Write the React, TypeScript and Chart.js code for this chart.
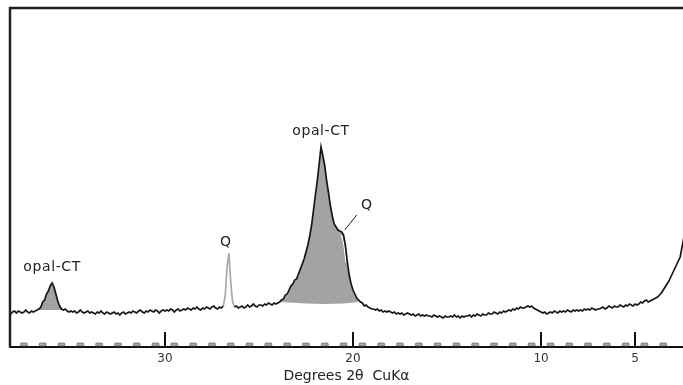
import { useEffect, useRef } from 'react';
import { Chart, registerables } from 'chart.js';

Chart.register(...registerables);

// X-ray diffraction trace, sampled every 0.1° 2θ from 38.9° down to 2.0°.
// Each row holds one degree: x.9, x.8, ... x.0
const ANGLE_START = 38.9;
const ANGLE_STEP = 0.1;
const counts: number[] = [
  35, 34, 36, 35, 34, 36, 35, 33, 35, 36, // 38
  34, 36, 35, 34, 35, 37, 35, 34, 36, 35, // 37
  36, 37, 38, 40, 45, 47, 53, 56, 61, 64, // 36
  60, 53, 46, 41, 38, 37, 38, 36, 35, 36, // 35
  35, 36, 34, 35, 37, 35, 34, 35, 36, 34, // 34
  35, 34, 33, 35, 34, 36, 34, 33, 35, 34, // 33
  33, 34, 35, 33, 34, 32, 34, 35, 33, 34, // 32
  35, 34, 36, 35, 34, 36, 37, 35, 34, 36, // 31
  35, 37, 36, 35, 37, 36, 34, 36, 37, 36, // 30
  37, 36, 38, 37, 35, 37, 38, 36, 37, 38, // 29
  37, 39, 38, 37, 39, 38, 40, 38, 37, 39, // 28
  38, 40, 39, 38, 40, 41, 39, 38, 40, 39, // 27
  41, 50, 79, 94, 64, 45, 40, 41, 39, 40, // 26
  41, 39, 40, 42, 40, 41, 43, 41, 40, 42, // 25
  42, 41, 43, 42, 44, 43, 42, 44, 43, 44, // 24
  45, 47, 48, 52, 53, 57, 61, 63, 67, 68, // 23
  73, 78, 83, 88, 95, 102, 111, 122, 137, 152, // 22
  166, 183, 200, 191, 181, 166, 154, 141, 131, 123, // 21
  120, 117, 116, 115, 112, 101, 85, 72, 63, 57, // 20
  53, 49, 47, 45, 44, 41, 42, 40, 39, 38, // 19
  38, 37, 38, 36, 37, 35, 36, 35, 36, 35, // 18
  34, 35, 33, 34, 33, 34, 32, 33, 34, 33, // 17
  32, 33, 31, 32, 33, 31, 32, 31, 32, 31, // 16
  31, 30, 32, 31, 30, 31, 30, 29, 31, 30, // 15
  30, 31, 30, 32, 30, 31, 29, 31, 30, 31, // 14
  31, 32, 30, 32, 31, 33, 32, 31, 33, 32, // 13
  32, 34, 33, 33, 35, 34, 33, 35, 34, 36, // 12
  35, 36, 37, 36, 38, 37, 39, 38, 40, 39, // 11
  39, 40, 41, 40, 41, 39, 38, 37, 36, 35, // 10
  34, 35, 33, 34, 35, 34, 36, 35, 34, 36, // 9
  35, 36, 35, 37, 36, 35, 37, 36, 37, 36, // 8
  37, 36, 38, 37, 38, 37, 39, 38, 37, 38, // 7
  38, 39, 40, 38, 39, 41, 40, 39, 41, 40, // 6
  40, 42, 41, 40, 42, 41, 43, 42, 41, 43, // 5
  42, 43, 45, 44, 46, 47, 45, 46, 47, 48, // 4
  49, 50, 52, 54, 57, 60, 63, 66, 70, 74, // 3
  78, 82, 86, 90, 100, 110, 118, 126, 134, 142, // 2
];
const twoTheta = counts.map((_, i) => +(ANGLE_START - i * ANGLE_STEP).toFixed(1));

// Axis
const X_MIN = 2.45;
const X_MAX = 38.24;
const Y_MAX = 339;
const tickAngles = [30, 20, 10, 5];
const minorMarks = [
  37.5, 36.5, 35.5, 34.5, 33.5, 32.5, 31.5, 30.5, 29.5, 28.5, 27.5, 26.5, 25.5, 24.5, 23.5, 22.5, 21.5, 20.5,
  19.5, 18.5, 17.5, 16.5, 15.5, 14.5, 13.5, 12.5, 11.5, 10.5, 9.5, 8.5, 7.5, 6.5, 5.5, 4.5, 3.5, 2.5,
];
const axisTitle = 'Degrees 2θ  CuKα';

// Shaded opal-CT reflections: angular range and the amorphous base beneath each
const smallPeakRange = [35.4, 36.8];
const smallBaseAngles = [36.8, 35.4];
const smallBaseCounts = [37, 37];
const mainPeakRange = [19.7, 23.9];
const mainBaseAngles = [23.9, 22.5, 21.5, 20.5, 19.7];
const mainBaseCounts = [45, 43.5, 43, 43.5, 45];

// Quartz peak drawn in a lighter stroke, and the quartz shoulder on the main peak
const quartzRange = [26.25, 26.95];
const shoulderAngles = [20.62, 20.5, 20.42, 20.36];
const shoulderCounts = [112, 104, 92, 84];

// Peak annotations
const peakNames = ['opal-CT', 'Q', 'opal-CT', 'Q'];
const peakAngles = [36.0, 26.6, 21.7, 20.6];

const FONT = '"DejaVu Sans", "Open Sans", sans-serif';

const trace = twoTheta.map((x, i) => ({ x, y: counts[i] }));
const within = (r: number[]) => trace.filter((p) => p.x >= r[0] - 1e-9 && p.x <= r[1] + 1e-9);
const pairs = (xs: number[], ys: number[]) => xs.map((x, i) => ({ x, y: ys[i] }));
const countAt = (a: number) => trace.find((p) => Math.abs(p.x - a) < 1e-6)?.y ?? 0;

const axisPlugin = {
  id: 'axisDecor',
  afterDraw(chart: any) {
    const { ctx, chartArea: a, scales } = chart;
    const x = scales.x;
    ctx.save();
    // small grey graduation marks resting on the axis
    ctx.fillStyle = '#a8a8a8';
    ctx.strokeStyle = '#5f5f5f';
    ctx.lineWidth = 0.7;
    for (const v of minorMarks) {
      const px = x.getPixelForValue(v);
      if (px < a.left + 5 || px > a.right - 3) continue;
      ctx.beginPath();
      ctx.roundRect(px - 3.5, a.bottom - 4, 7, 3, 1.2);
      ctx.fill();
      ctx.stroke();
    }
    // major ticks pointing into the plot
    ctx.strokeStyle = '#111';
    ctx.lineWidth = 2;
    ctx.beginPath();
    for (const v of tickAngles) {
      const px = Math.round(x.getPixelForValue(v));
      ctx.moveTo(px, a.bottom + 1);
      ctx.lineTo(px, a.bottom - 15);
    }
    ctx.stroke();
    // left and top frame
    ctx.strokeStyle = '#222';
    ctx.lineWidth = 2.5;
    ctx.beginPath();
    ctx.moveTo(a.left, a.bottom);
    ctx.lineTo(a.left, a.top);
    ctx.lineTo(a.right + 2, a.top);
    ctx.stroke();
    ctx.restore();
  },
};

const labelPlugin = {
  id: 'peakLabels',
  afterDatasetsDraw(chart: any) {
    const { ctx, scales } = chart;
    const x = scales.x;
    const y = scales.y;
    ctx.save();
    ctx.fillStyle = '#222';
    ctx.font = `14px ${FONT}`;
    (ctx as any).letterSpacing = '0.6px';
    ctx.textAlign = 'center';
    ctx.textBaseline = 'middle';
    peakNames.forEach((name, i) => {
      const px = x.getPixelForValue(peakAngles[i]);
      const py = y.getPixelForValue(countAt(peakAngles[i]));
      if (i === 3) {
        // shoulder label with a leader line
        ctx.strokeStyle = '#222';
        ctx.lineWidth = 1;
        ctx.beginPath();
        ctx.moveTo(px + 3, py - 2);
        ctx.lineTo(px + 15, py - 17);
        ctx.stroke();
        ctx.fillText(name, px + 25, py - 27);
      } else if (name === 'Q') {
        ctx.fillText(name, px - 3, py - 11);
      } else {
        ctx.fillText(name, px, py - 16);
      }
    });
    ctx.restore();
  },
};

export default function App() {
  const ref = useRef<HTMLCanvasElement | null>(null);

  useEffect(() => {
    if (!ref.current) return;
    const inQuartz = (c: any) =>
      c.p0.parsed.x >= quartzRange[0] && c.p0.parsed.x <= quartzRange[1] &&
      c.p1.parsed.x >= quartzRange[0] && c.p1.parsed.x <= quartzRange[1];

    const chart = new Chart(ref.current, {
      type: 'line',
      data: {
        datasets: [
          {
            label: 'XRD pattern',
            data: trace,
            borderColor: '#161616',
            borderWidth: 1.7,
            pointRadius: 0,
            fill: false,
            order: 0,
            segment: { borderColor: (c: any) => (inQuartz(c) ? '#a9a9a9' : undefined) },
          },
          {
            label: 'quartz shoulder',
            data: pairs(shoulderAngles, shoulderCounts),
            borderColor: '#ffffff',
            borderWidth: 1.1,
            pointRadius: 0,
            fill: false,
            order: 1,
          },
          {
            label: 'opal-CT (2.5 Å)',
            data: within(smallPeakRange),
            borderColor: 'rgba(0,0,0,0)',
            borderWidth: 0,
            pointRadius: 0,
            backgroundColor: '#a3a3a3',
            fill: '+1',
            order: 2,
          },
          {
            label: 'base 1',
            data: pairs(smallBaseAngles, smallBaseCounts),
            borderColor: 'rgba(0,0,0,0)',
            borderWidth: 0,
            pointRadius: 0,
            fill: false,
            order: 3,
          },
          {
            label: 'opal-CT (4.1 Å)',
            data: within(mainPeakRange),
            borderColor: 'rgba(0,0,0,0)',
            borderWidth: 0,
            pointRadius: 0,
            backgroundColor: '#a3a3a3',
            fill: '+1',
            order: 2,
          },
          {
            label: 'base 2',
            data: pairs(mainBaseAngles, mainBaseCounts),
            borderColor: 'rgba(0,0,0,0)',
            borderWidth: 0,
            pointRadius: 0,
            fill: false,
            order: 3,
          },
        ],
      },
      options: {
        animation: false,
        responsive: false,
        events: [],
        layout: { padding: { left: 10, top: 8, right: 0, bottom: 0 } },
        plugins: { legend: { display: false }, tooltip: { enabled: false } },
        scales: {
          x: {
            type: 'linear',
            reverse: true,
            min: X_MIN,
            max: X_MAX,
            afterBuildTicks: (s: any) => {
              s.ticks = tickAngles.map((value) => ({ value }));
            },
            afterFit: (s: any) => {
              s.height = 38;
            },
            grid: { display: true, drawOnChartArea: false, drawTicks: false },
            border: { display: true, color: '#111', width: 2 },
            ticks: {
              padding: 5,
              color: '#333',
              autoSkip: false,
              maxRotation: 0,
              font: { family: FONT, size: 12 },
              callback: (v: any) => String(v),
            },
            title: {
              display: true,
              text: axisTitle,
              color: '#222',
              font: { family: FONT, size: 14 },
              padding: { top: 0, bottom: 0 },
            },
          },
          y: { display: false, min: 0, max: Y_MAX },
        },
      },
      plugins: [axisPlugin, labelPlugin],
    } as any);
    return () => chart.destroy();
  }, []);

  return (
    <div style={{ position: 'fixed', left: 0, top: 0, width: 683, height: 385, background: '#fff' }}>
      <canvas ref={ref} width={683} height={385} style={{ display: 'block' }} />
    </div>
  );
}
